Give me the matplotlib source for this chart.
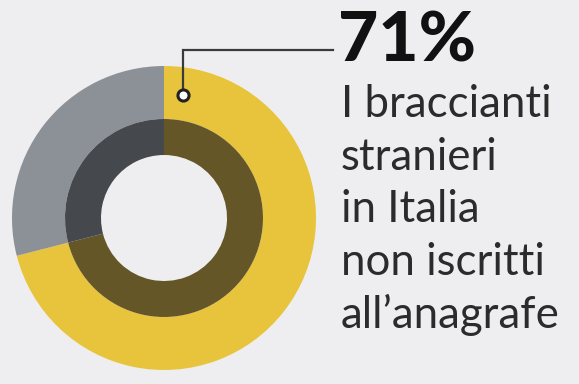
import matplotlib.pyplot as plt

# Share of foreign farm workers not registered with the registry office
shares = [71, 29]
outer_colors = ["#e8c43c", "#8c9097"]
inner_colors = ["#655628", "#45484d"]
headline = "71%"
caption_lines = ["I braccianti", "stranieri", "in Italia", "non iscritti", "all\u2019anagrafe"]

W, H = 579, 384
BG = "#eeeef0"

fig = plt.figure(figsize=(W / 100, H / 100), dpi=100, facecolor=BG)
ax = fig.add_axes([0, 0, 1, 1])
ax.set_facecolor(BG)

cx, cy = 164, H - 218
ax.pie(shares, colors=outer_colors, startangle=90, counterclock=False,
       radius=152, center=(cx, cy), frame=True,
       wedgeprops=dict(width=53, linewidth=0))
ax.pie(shares, colors=inner_colors, startangle=90, counterclock=False,
       radius=99, center=(cx, cy), frame=True,
       wedgeprops=dict(width=36, linewidth=0))

# leader line from the yellow ring to the headline
mx, my = 183, H - 95
ax.plot([mx, mx, 333], [my, H - 50, H - 50], color="#3a3a3a", lw=1.6,
        solid_joinstyle="miter", zorder=3)
ax.plot([mx], [my], "o", ms=8, mfc="white", mec="#222222", mew=2.2, zorder=4)

ax.text(338, H - 62, headline, fontsize=50, fontweight="black", family="Lato",
        color="#111111", ha="left", va="baseline")

y0 = H - 117
for i, line in enumerate(caption_lines):
    ax.text(341, y0 - i * 52.7, line, fontsize=31.5, family="Lato",
            color="#2b2b2b", ha="left", va="baseline")

ax.set_xlim(0, W)
ax.set_ylim(0, H)
ax.set_aspect("auto")
ax.axis("off")

fig.savefig("out.png", dpi=100, facecolor=BG)
